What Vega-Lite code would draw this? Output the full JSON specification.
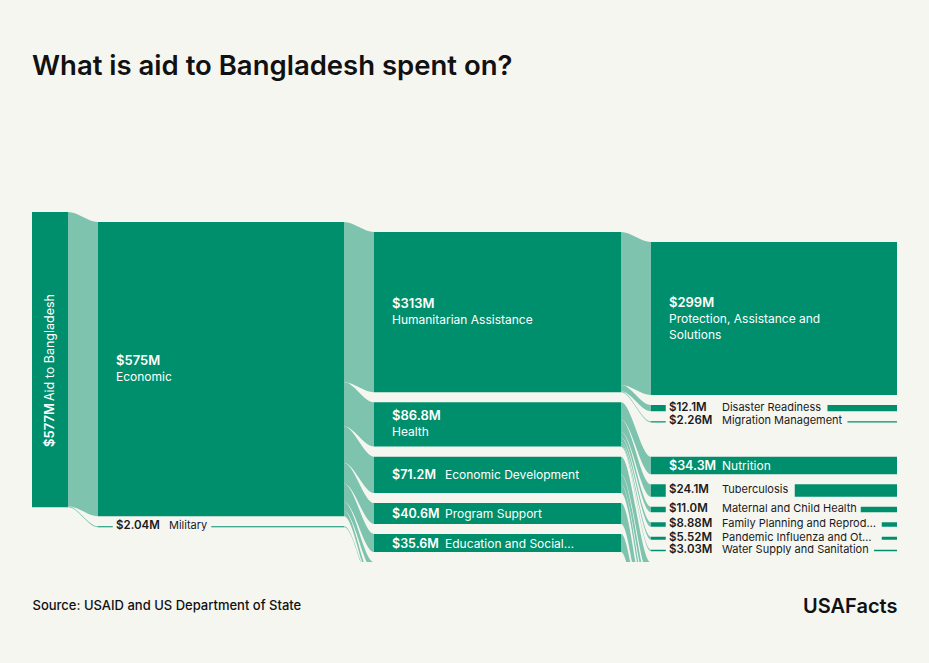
{
  "$schema": "https://vega.github.io/schema/vega-lite/v6.json",
  "width": 865,
  "height": 350,
  "autosize": {"type": "none"},
  "padding": {"left": 32, "top": 212, "right": 32, "bottom": 101},
  "background": "#f6f6f1",
  "title": {
    "text": "What is aid to Bangladesh spent on?",
    "anchor": "start",
    "frame": "group",
    "offset": 132,
    "font": "Inter",
    "fontSize": 27.5,
    "fontWeight": 600,
    "color": "#111111"
  },
  "config": {
    "view": {"stroke": null},
    "font": "Inter",
    "axis": {"domain": false, "ticks": false, "labels": false, "grid": false}
  },
  "datasets": {
    "nodes": [
      {"name": "Aid to Bangladesh", "amount": "$577M", "text": "Aid to Bangladesh", "x0": 0, "x1": 36, "y0": 0, "y1": 577, "type": "rot"},
      {"name": "Economic", "amount": "$575M", "text": "Economic", "x0": 66, "x1": 312, "y0": 19.57, "y1": 594.57, "type": "two"},
      {"name": "Military", "amount": "$2.04M", "text": "Military", "x0": 66, "x1": 312, "y0": 614.1, "y1": 616.14, "type": "small", "tail": 178.5},
      {"name": "Humanitarian Assistance", "amount": "$313M", "text": "Humanitarian Assistance", "x0": 342, "x1": 589, "y0": 39.1, "y1": 352.1, "type": "two"},
      {"name": "Health", "amount": "$86.8M", "text": "Health", "x0": 342, "x1": 589, "y0": 371.7, "y1": 458.5, "type": "two"},
      {"name": "Economic Development", "amount": "$71.2M", "text": "Economic Development", "x0": 342, "x1": 589, "y0": 478.1, "y1": 549.3, "type": "inline"},
      {"name": "Program Support", "amount": "$40.6M", "text": "Program Support", "x0": 342, "x1": 589, "y0": 568.9, "y1": 609.5, "type": "inline"},
      {"name": "Education and Social Services", "amount": "$35.6M", "text": "Education and Social…", "x0": 342, "x1": 589, "y0": 629.1, "y1": 664.7, "type": "inline"},
      {"name": "Democracy, Human Rights, and Governance", "amount": "$17.4M", "text": "Democracy, Human Rights, and Governance", "x0": 342, "x1": 589, "y0": 684.3, "y1": 701.7, "type": "hidden"},
      {"name": "Peace and Security", "amount": "$12.4M", "text": "Peace and Security", "x0": 342, "x1": 589, "y0": 721.3, "y1": 733.74, "type": "hidden"},
      {"name": "Protection, Assistance and Solutions", "amount": "$299M", "text": "Protection, Assistance and\nSolutions", "x0": 619, "x1": 865, "y0": 58.7, "y1": 357.7, "type": "three"},
      {"name": "Disaster Readiness", "amount": "$12.1M", "text": "Disaster Readiness", "x0": 619, "x1": 865, "y0": 377.3, "y1": 389.4, "type": "small", "tail": 794.7},
      {"name": "Migration Management", "amount": "$2.26M", "text": "Migration Management", "x0": 619, "x1": 865, "y0": 408.9, "y1": 411.16, "type": "small", "tail": 814.7},
      {"name": "Nutrition", "amount": "$34.3M", "text": "Nutrition", "x0": 619, "x1": 865, "y0": 478.3, "y1": 512.6, "type": "inline"},
      {"name": "Tuberculosis", "amount": "$24.1M", "text": "Tuberculosis", "x0": 619, "x1": 865, "y0": 532.2, "y1": 556.3, "type": "small", "tail": 762},
      {"name": "Maternal and Child Health", "amount": "$11.0M", "text": "Maternal and Child Health", "x0": 619, "x1": 865, "y0": 575.8, "y1": 586.8, "type": "small", "tail": 828},
      {"name": "Family Planning and Reproductive Health", "amount": "$8.88M", "text": "Family Planning and Reprod…", "x0": 619, "x1": 865, "y0": 606.4, "y1": 615.28, "type": "small", "tail": 849},
      {"name": "Pandemic Influenza and Other Emerging Threats", "amount": "$5.52M", "text": "Pandemic Influenza and Ot…", "x0": 619, "x1": 865, "y0": 634.8, "y1": 640.32, "type": "small", "tail": 849},
      {"name": "Water Supply and Sanitation", "amount": "$3.03M", "text": "Water Supply and Sanitation", "x0": 619, "x1": 865, "y0": 659.9, "y1": 662.93, "type": "small", "tail": 841.3},
      {"name": "Agriculture", "amount": "$35.0M", "text": "Agriculture", "x0": 619, "x1": 865, "y0": 685, "y1": 720, "type": "hidden"},
      {"name": "Environment", "amount": "$20.0M", "text": "Environment", "x0": 619, "x1": 865, "y0": 739.6, "y1": 759.6, "type": "hidden"},
      {"name": "Private Sector Productivity", "amount": "$16.2M", "text": "Private Sector Productivity", "x0": 619, "x1": 865, "y0": 779.2, "y1": 795.4, "type": "hidden"},
      {"name": "Program Design and Learning", "amount": "$40.6M", "text": "Program Design and Learning", "x0": 619, "x1": 865, "y0": 815, "y1": 855.6, "type": "hidden"},
      {"name": "Basic Education", "amount": "$35.6M", "text": "Basic Education", "x0": 619, "x1": 865, "y0": 875.2, "y1": 910.8, "type": "hidden"},
      {"name": "Good Governance", "amount": "$17.4M", "text": "Good Governance", "x0": 619, "x1": 865, "y0": 930.4, "y1": 947.8, "type": "hidden"},
      {"name": "Counter-Terrorism", "amount": "$12.4M", "text": "Counter-Terrorism", "x0": 619, "x1": 865, "y0": 967.4, "y1": 979.84, "type": "hidden"}
    ],
    "links": [
      {"link": "Aid-Economic", "x": 36, "y": 0, "y2": 575},
      {"link": "Aid-Economic", "x": 36.1, "y": 0, "y2": 575},
      {"link": "Aid-Economic", "x": 65.9, "y": 19.57, "y2": 594.57},
      {"link": "Aid-Economic", "x": 66, "y": 19.57, "y2": 594.57},
      {"link": "Aid-Military", "x": 36, "y": 575, "y2": 577.04},
      {"link": "Aid-Military", "x": 36.1, "y": 575, "y2": 577.04},
      {"link": "Aid-Military", "x": 65.9, "y": 614.1, "y2": 616.14},
      {"link": "Aid-Military", "x": 66, "y": 614.1, "y2": 616.14},
      {"link": "Economic-Humanitarian", "x": 312, "y": 19.57, "y2": 332.57},
      {"link": "Economic-Humanitarian", "x": 312.1, "y": 19.57, "y2": 332.57},
      {"link": "Economic-Humanitarian", "x": 341.9, "y": 39.1, "y2": 352.1},
      {"link": "Economic-Humanitarian", "x": 342, "y": 39.1, "y2": 352.1},
      {"link": "Economic-Health", "x": 312, "y": 332.57, "y2": 419.37},
      {"link": "Economic-Health", "x": 312.1, "y": 332.57, "y2": 419.37},
      {"link": "Economic-Health", "x": 341.9, "y": 371.7, "y2": 458.5},
      {"link": "Economic-Health", "x": 342, "y": 371.7, "y2": 458.5},
      {"link": "Economic-EconDev", "x": 312, "y": 419.37, "y2": 490.57},
      {"link": "Economic-EconDev", "x": 312.1, "y": 419.37, "y2": 490.57},
      {"link": "Economic-EconDev", "x": 341.9, "y": 478.1, "y2": 549.3},
      {"link": "Economic-EconDev", "x": 342, "y": 478.1, "y2": 549.3},
      {"link": "Economic-Program", "x": 312, "y": 490.57, "y2": 531.17},
      {"link": "Economic-Program", "x": 312.1, "y": 490.57, "y2": 531.17},
      {"link": "Economic-Program", "x": 341.9, "y": 568.9, "y2": 609.5},
      {"link": "Economic-Program", "x": 342, "y": 568.9, "y2": 609.5},
      {"link": "Economic-Education", "x": 312, "y": 531.17, "y2": 566.77},
      {"link": "Economic-Education", "x": 312.1, "y": 531.17, "y2": 566.77},
      {"link": "Economic-Education", "x": 341.9, "y": 629.1, "y2": 664.7},
      {"link": "Economic-Education", "x": 342, "y": 629.1, "y2": 664.7},
      {"link": "Economic-Democracy", "x": 312, "y": 566.77, "y2": 584.17},
      {"link": "Economic-Democracy", "x": 312.1, "y": 566.77, "y2": 584.17},
      {"link": "Economic-Democracy", "x": 341.9, "y": 684.3, "y2": 701.7},
      {"link": "Economic-Democracy", "x": 342, "y": 684.3, "y2": 701.7},
      {"link": "Economic-Peace", "x": 312, "y": 584.17, "y2": 594.57},
      {"link": "Economic-Peace", "x": 312.1, "y": 584.17, "y2": 594.57},
      {"link": "Economic-Peace", "x": 341.9, "y": 721.3, "y2": 731.7},
      {"link": "Economic-Peace", "x": 342, "y": 721.3, "y2": 731.7},
      {"link": "Military-Peace", "x": 312, "y": 614.1, "y2": 616.14},
      {"link": "Military-Peace", "x": 312.1, "y": 614.1, "y2": 616.14},
      {"link": "Military-Peace", "x": 341.9, "y": 731.7, "y2": 733.74},
      {"link": "Military-Peace", "x": 342, "y": 731.7, "y2": 733.74},
      {"link": "Hum-Protection", "x": 589, "y": 39.1, "y2": 338.1},
      {"link": "Hum-Protection", "x": 589.1, "y": 39.1, "y2": 338.1},
      {"link": "Hum-Protection", "x": 618.9, "y": 58.7, "y2": 357.7},
      {"link": "Hum-Protection", "x": 619, "y": 58.7, "y2": 357.7},
      {"link": "Hum-Disaster", "x": 589, "y": 338.1, "y2": 350.2},
      {"link": "Hum-Disaster", "x": 589.1, "y": 338.1, "y2": 350.2},
      {"link": "Hum-Disaster", "x": 618.9, "y": 377.3, "y2": 389.4},
      {"link": "Hum-Disaster", "x": 619, "y": 377.3, "y2": 389.4},
      {"link": "Hum-Migration", "x": 589, "y": 350.2, "y2": 352.46},
      {"link": "Hum-Migration", "x": 589.1, "y": 350.2, "y2": 352.46},
      {"link": "Hum-Migration", "x": 618.9, "y": 408.9, "y2": 411.16},
      {"link": "Hum-Migration", "x": 619, "y": 408.9, "y2": 411.16},
      {"link": "Health-Nutrition", "x": 589, "y": 371.7, "y2": 406.0},
      {"link": "Health-Nutrition", "x": 589.1, "y": 371.7, "y2": 406.0},
      {"link": "Health-Nutrition", "x": 618.9, "y": 478.3, "y2": 512.6},
      {"link": "Health-Nutrition", "x": 619, "y": 478.3, "y2": 512.6},
      {"link": "Health-TB", "x": 589, "y": 406.0, "y2": 430.1},
      {"link": "Health-TB", "x": 589.1, "y": 406.0, "y2": 430.1},
      {"link": "Health-TB", "x": 618.9, "y": 532.2, "y2": 556.3},
      {"link": "Health-TB", "x": 619, "y": 532.2, "y2": 556.3},
      {"link": "Health-Maternal", "x": 589, "y": 430.1, "y2": 441.1},
      {"link": "Health-Maternal", "x": 589.1, "y": 430.1, "y2": 441.1},
      {"link": "Health-Maternal", "x": 618.9, "y": 575.8, "y2": 586.8},
      {"link": "Health-Maternal", "x": 619, "y": 575.8, "y2": 586.8},
      {"link": "Health-FP", "x": 589, "y": 441.1, "y2": 449.98},
      {"link": "Health-FP", "x": 589.1, "y": 441.1, "y2": 449.98},
      {"link": "Health-FP", "x": 618.9, "y": 606.4, "y2": 615.28},
      {"link": "Health-FP", "x": 619, "y": 606.4, "y2": 615.28},
      {"link": "Health-Pandemic", "x": 589, "y": 449.98, "y2": 455.5},
      {"link": "Health-Pandemic", "x": 589.1, "y": 449.98, "y2": 455.5},
      {"link": "Health-Pandemic", "x": 618.9, "y": 634.8, "y2": 640.32},
      {"link": "Health-Pandemic", "x": 619, "y": 634.8, "y2": 640.32},
      {"link": "Health-Water", "x": 589, "y": 455.5, "y2": 458.53},
      {"link": "Health-Water", "x": 589.1, "y": 455.5, "y2": 458.53},
      {"link": "Health-Water", "x": 618.9, "y": 659.9, "y2": 662.93},
      {"link": "Health-Water", "x": 619, "y": 659.9, "y2": 662.93},
      {"link": "EconDev-Agriculture", "x": 589, "y": 478.1, "y2": 513.1},
      {"link": "EconDev-Agriculture", "x": 589.1, "y": 478.1, "y2": 513.1},
      {"link": "EconDev-Agriculture", "x": 618.9, "y": 685, "y2": 720},
      {"link": "EconDev-Agriculture", "x": 619, "y": 685, "y2": 720},
      {"link": "EconDev-Environment", "x": 589, "y": 513.1, "y2": 533.1},
      {"link": "EconDev-Environment", "x": 589.1, "y": 513.1, "y2": 533.1},
      {"link": "EconDev-Environment", "x": 618.9, "y": 739.6, "y2": 759.6},
      {"link": "EconDev-Environment", "x": 619, "y": 739.6, "y2": 759.6},
      {"link": "EconDev-Private", "x": 589, "y": 533.1, "y2": 549.3},
      {"link": "EconDev-Private", "x": 589.1, "y": 533.1, "y2": 549.3},
      {"link": "EconDev-Private", "x": 618.9, "y": 779.2, "y2": 795.4},
      {"link": "EconDev-Private", "x": 619, "y": 779.2, "y2": 795.4},
      {"link": "Program-Design", "x": 589, "y": 568.9, "y2": 609.5},
      {"link": "Program-Design", "x": 589.1, "y": 568.9, "y2": 609.5},
      {"link": "Program-Design", "x": 618.9, "y": 815, "y2": 855.6},
      {"link": "Program-Design", "x": 619, "y": 815, "y2": 855.6},
      {"link": "Education-Basic", "x": 589, "y": 629.1, "y2": 664.7},
      {"link": "Education-Basic", "x": 589.1, "y": 629.1, "y2": 664.7},
      {"link": "Education-Basic", "x": 618.9, "y": 875.2, "y2": 910.8},
      {"link": "Education-Basic", "x": 619, "y": 875.2, "y2": 910.8},
      {"link": "Democracy-Governance", "x": 589, "y": 684.3, "y2": 701.7},
      {"link": "Democracy-Governance", "x": 589.1, "y": 684.3, "y2": 701.7},
      {"link": "Democracy-Governance", "x": 618.9, "y": 930.4, "y2": 947.8},
      {"link": "Democracy-Governance", "x": 619, "y": 930.4, "y2": 947.8},
      {"link": "Peace-CT", "x": 589, "y": 721.3, "y2": 733.74},
      {"link": "Peace-CT", "x": 589.1, "y": 721.3, "y2": 733.74},
      {"link": "Peace-CT", "x": 618.9, "y": 967.4, "y2": 979.84},
      {"link": "Peace-CT", "x": 619, "y": 967.4, "y2": 979.84}
    ]
  },
  "layer": [
    {
      "data": {"name": "links"},
      "mark": {"type": "area", "interpolate": "monotone", "color": "#7dc3ae", "clip": true},
      "encoding": {
        "x": {"field": "x", "type": "quantitative", "scale": {"domain": [0, 865], "nice": false, "zero": false},
          "axis": {"orient": "bottom", "title": "Source: USAID and US Department of State",
            "titleAnchor": "start", "titleAlign": "left", "titleBaseline": "alphabetic", "titleX": 0, "titleY": 47,
            "titleFont": "Inter", "titleFontSize": 13, "titleFontWeight": 500, "titleColor": "#111111"}},
        "y": {"field": "y", "type": "quantitative", "stack": null, "scale": {"domain": [0, 684], "nice": false, "zero": false, "reverse": true},
          "axis": {"orient": "right", "title": "USAFacts",
            "titleAngle": 0, "titleAlign": "right", "titleBaseline": "alphabetic", "titleX": 0, "titleY": 400,
            "titleFont": "Inter", "titleFontSize": 20, "titleFontWeight": 600, "titleColor": "#111111"}},
        "y2": {"field": "y2"},
        "detail": {"field": "link"}
      }
    },
    {
      "data": {"name": "nodes"},
      "mark": {"type": "rect", "color": "#008f6c", "clip": true},
      "encoding": {
        "x": {"field": "x0", "type": "quantitative"},
        "x2": {"field": "x1"},
        "y": {"field": "y0", "type": "quantitative"},
        "y2": {"field": "y1"}
      }
    },
    {
      "data": {"name": "nodes"},
      "transform": [{"filter": "datum.type === 'small'"}],
      "mark": {"type": "rect", "color": "#f6f6f1", "stroke": "#f6f6f1", "strokeWidth": 1.5, "xOffset": 15.5, "clip": true},
      "encoding": {
        "x": {"field": "x0", "type": "quantitative"},
        "x2": {"field": "tail"},
        "y": {"field": "y0", "type": "quantitative"},
        "y2": {"field": "y1"}
      }
    },
    {
      "data": {"name": "nodes"},
      "transform": [{"filter": "datum.type === 'two'"}, {"calculate": "(datum.y0 + datum.y1) / 2", "as": "ym"}],
      "mark": {"type": "text", "align": "left", "baseline": "alphabetic", "dx": 18, "dy": -4, "font": "Inter", "fontSize": 13, "fontWeight": 600, "color": "#ffffff"},
      "encoding": {
        "x": {"field": "x0", "type": "quantitative"},
        "y": {"field": "ym", "type": "quantitative"},
        "text": {"field": "amount"}
      }
    },
    {
      "data": {"name": "nodes"},
      "transform": [{"filter": "datum.type === 'two'"}, {"calculate": "(datum.y0 + datum.y1) / 2", "as": "ym"}],
      "mark": {"type": "text", "align": "left", "baseline": "alphabetic", "dx": 18, "dy": 12, "font": "Inter", "fontSize": 12, "fontWeight": 400, "letterSpacing": 0.4, "color": "#ffffff"},
      "encoding": {
        "x": {"field": "x0", "type": "quantitative"},
        "y": {"field": "ym", "type": "quantitative"},
        "text": {"field": "text"}
      }
    },
    {
      "data": {"name": "nodes"},
      "transform": [{"filter": "datum.type === 'three'"}, {"calculate": "(datum.y0 + datum.y1) / 2", "as": "ym"}],
      "mark": {"type": "text", "align": "left", "baseline": "alphabetic", "dx": 18, "dy": -12, "font": "Inter", "fontSize": 13, "fontWeight": 600, "color": "#ffffff"},
      "encoding": {
        "x": {"field": "x0", "type": "quantitative"},
        "y": {"field": "ym", "type": "quantitative"},
        "text": {"field": "amount"}
      }
    },
    {
      "data": {"name": "nodes"},
      "transform": [{"filter": "datum.type === 'three'"}, {"calculate": "(datum.y0 + datum.y1) / 2", "as": "ym"}],
      "mark": {"type": "text", "align": "left", "baseline": "alphabetic", "dx": 18, "dy": 4, "lineBreak": "\n", "lineHeight": 16, "font": "Inter", "fontSize": 12, "fontWeight": 400, "letterSpacing": 0.4, "color": "#ffffff"},
      "encoding": {
        "x": {"field": "x0", "type": "quantitative"},
        "y": {"field": "ym", "type": "quantitative"},
        "text": {"field": "text"}
      }
    },
    {
      "data": {"name": "nodes"},
      "transform": [{"filter": "datum.type === 'inline'"}, {"calculate": "(datum.y0 + datum.y1) / 2", "as": "ym"}],
      "mark": {"type": "text", "align": "left", "baseline": "middle", "dx": 18, "dy": 0.5, "font": "Inter", "fontSize": 12.5, "fontWeight": 600, "letterSpacing": -0.2, "color": "#ffffff"},
      "encoding": {
        "x": {"field": "x0", "type": "quantitative"},
        "y": {"field": "ym", "type": "quantitative"},
        "text": {"field": "amount"}
      }
    },
    {
      "data": {"name": "nodes"},
      "transform": [{"filter": "datum.type === 'inline'"}, {"calculate": "(datum.y0 + datum.y1) / 2", "as": "ym"}],
      "mark": {"type": "text", "align": "left", "baseline": "middle", "dx": 71, "dy": 0.5, "font": "Inter", "fontSize": 12, "fontWeight": 400, "letterSpacing": 0.2, "color": "#ffffff"},
      "encoding": {
        "x": {"field": "x0", "type": "quantitative"},
        "y": {"field": "ym", "type": "quantitative"},
        "text": {"field": "text"}
      }
    },
    {
      "data": {"name": "nodes"},
      "transform": [{"filter": "datum.type === 'small'"}, {"calculate": "(datum.y0 + datum.y1) / 2", "as": "ym"}],
      "mark": {"type": "text", "align": "left", "baseline": "middle", "dx": 18, "dy": -0.5, "font": "Inter", "fontSize": 11.5, "fontWeight": 600, "color": "#1a1a1a"},
      "encoding": {
        "x": {"field": "x0", "type": "quantitative"},
        "y": {"field": "ym", "type": "quantitative"},
        "text": {"field": "amount"}
      }
    },
    {
      "data": {"name": "nodes"},
      "transform": [{"filter": "datum.type === 'small'"}, {"calculate": "(datum.y0 + datum.y1) / 2", "as": "ym"}],
      "mark": {"type": "text", "align": "left", "baseline": "middle", "dx": 71, "dy": -0.5, "font": "Inter", "fontSize": 11, "fontWeight": 400, "letterSpacing": 0.1, "color": "#1a1a1a"},
      "encoding": {
        "x": {"field": "x0", "type": "quantitative"},
        "y": {"field": "ym", "type": "quantitative"},
        "text": {"field": "text"}
      }
    },
    {
      "data": {"name": "nodes"},
      "transform": [{"filter": "datum.type === 'rot'"}, {"calculate": "(datum.y0 + datum.y1) / 2", "as": "ym"}],
      "mark": {"type": "text", "angle": 270, "align": "right", "baseline": "middle", "dx": -43.5, "dy": 18, "font": "Inter", "fontSize": 13, "fontWeight": 600, "color": "#ffffff"},
      "encoding": {
        "x": {"field": "x0", "type": "quantitative"},
        "y": {"field": "ym", "type": "quantitative"},
        "text": {"field": "amount"}
      }
    },
    {
      "data": {"name": "nodes"},
      "transform": [{"filter": "datum.type === 'rot'"}, {"calculate": "(datum.y0 + datum.y1) / 2", "as": "ym"}],
      "mark": {"type": "text", "angle": 270, "align": "left", "baseline": "middle", "dx": -41.5, "dy": 18, "font": "Inter", "fontSize": 12.5, "fontWeight": 400, "letterSpacing": 0.4, "color": "#ffffff"},
      "encoding": {
        "x": {"field": "x0", "type": "quantitative"},
        "y": {"field": "ym", "type": "quantitative"},
        "text": {"field": "text"}
      }
    }
  ]
}
